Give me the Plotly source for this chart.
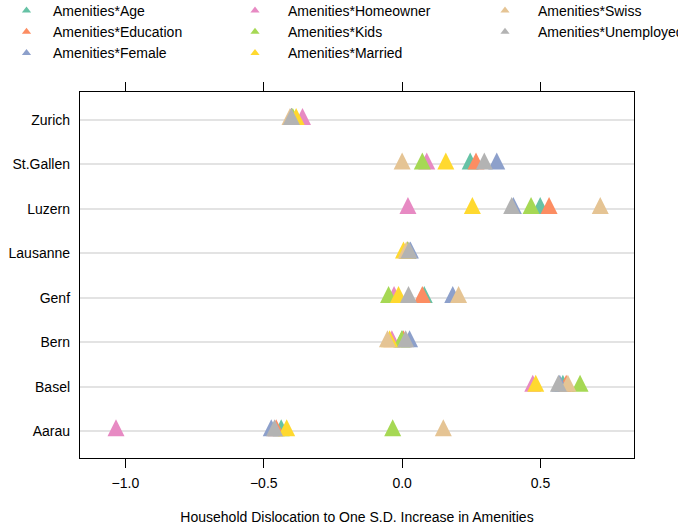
import plotly.graph_objects as go

cities = ["Aarau", "Basel", "Bern", "Genf", "Lausanne", "Luzern", "St.Gallen", "Zurich"]

series_names = [
    "Amenities*Age", "Amenities*Education", "Amenities*Female", "Amenities*Homeowner",
    "Amenities*Kids", "Amenities*Married", "Amenities*Swiss", "Amenities*Unemployed",
]

# values in city order: Aarau, Basel, Bern, Genf, Lausanne, Luzern, St.Gallen, Zurich
age        = [-0.437, 0.581,  0.000,  0.080, 0.020, 0.499, 0.246, -0.400]
education  = [-0.455, 0.593,  0.005,  0.073, 0.020, 0.531, 0.267, -0.400]
female     = [-0.473, 0.570,  0.027,  0.183, 0.030, 0.402, 0.342, -0.400]
homeowner  = [-1.034, 0.472, -0.037, -0.029, 0.020, 0.021, 0.089, -0.360]
kids       = [-0.034, 0.643, -0.001, -0.049, 0.020, 0.466, 0.073, -0.395]
married    = [-0.417, 0.483, -0.045, -0.013, 0.005, 0.254, 0.158, -0.383]
swiss      = [ 0.149, 0.599, -0.053,  0.204, 0.015, 0.716, 0.000, -0.405]
unemployed = [-0.461, 0.565,  0.013,  0.023, 0.025, 0.396, 0.297, -0.400]

series_values = [age, education, female, homeowner, kids, married, swiss, unemployed]

colors = ["#66C2A5", "#FC8D62", "#8DA0CB", "#E78AC3", "#A6D854", "#FFD92F", "#E5C494", "#B3B3B3"]

x_ticks = [-1.0, -0.5, 0.0, 0.5]
x_title = "Household Dislocation to One S.D. Increase in Amenities"

FONT = "Liberation Sans, Arial, Helvetica, sans-serif"
W, H = 678, 528
MT, MB = 92, 70
PLOT_H = H - MT - MB

fig = go.Figure()

# data marks (drawn in series order so later ones sit on top)
for name, vals, col in zip(series_names, series_values, colors):
    fig.add_trace(go.Scatter(
        x=vals, y=cities, mode="markers", name=name, showlegend=False,
        marker=dict(symbol="arrow-down", angle=180, standoff=12, size=17,
                    color=col, line=dict(width=0)),
        hoverinfo="x+y+name",
    ))

# legend entries, three columns
legend_ids = ["legend", "legend", "legend", "legend2", "legend2", "legend2", "legend3", "legend3"]
for name, col, lg in zip(series_names, colors, legend_ids):
    fig.add_trace(go.Scatter(
        x=[None], y=[None], mode="markers", name=name, legend=lg,
        marker=dict(symbol="triangle-up", size=8, color=col, line=dict(width=0)),
    ))

def legend_cfg(text_x_px, item_w):
    return dict(
        x=(text_x_px - item_w - 10) / W, xref="container",
        y=(PLOT_H + MT + 5) / PLOT_H, yref="paper",
        xanchor="left", yanchor="top", orientation="v",
        bgcolor="rgba(0,0,0,0)", borderwidth=0, itemwidth=item_w,
        font=dict(family=FONT, size=14, color="black"), tracegroupgap=0,
    )

fig.update_layout(
    width=W, height=H,
    margin=dict(l=80, r=44, t=MT, b=MB, pad=0, autoexpand=False),
    paper_bgcolor="white", plot_bgcolor="white",
    font=dict(family=FONT, size=14, color="black"),
    legend=legend_cfg(53, 43), legend2=legend_cfg(288, 56), legend3=legend_cfg(538, 56),
    xaxis=dict(
        range=[-1.164, 0.838], tickvals=x_ticks, tickformat=".1f",
        ticks="outside", ticklen=9, tickwidth=1.3, tickcolor="black",
        showline=True, linecolor="black", linewidth=1.3, mirror="ticks",
        showgrid=False, zeroline=False, ticklabelstandoff=3,
        tickfont=dict(family=FONT, size=14, color="black"),
        automargin=False,
        title=dict(text=x_title, font=dict(family=FONT, size=14, color="black"), standoff=22),
    ),
    yaxis=dict(
        type="category", categoryorder="array", categoryarray=cities,
        range=[-0.6, 7.63], ticks="", showline=True, linecolor="black",
        linewidth=1.3, mirror=True, showgrid=True, gridcolor="#E3E3E3", gridwidth=1.5,
        zeroline=False, ticklabelstandoff=6, automargin=False,
        tickfont=dict(family=FONT, size=14, color="black"),
    ),
)

fig.write_html("out.html")
